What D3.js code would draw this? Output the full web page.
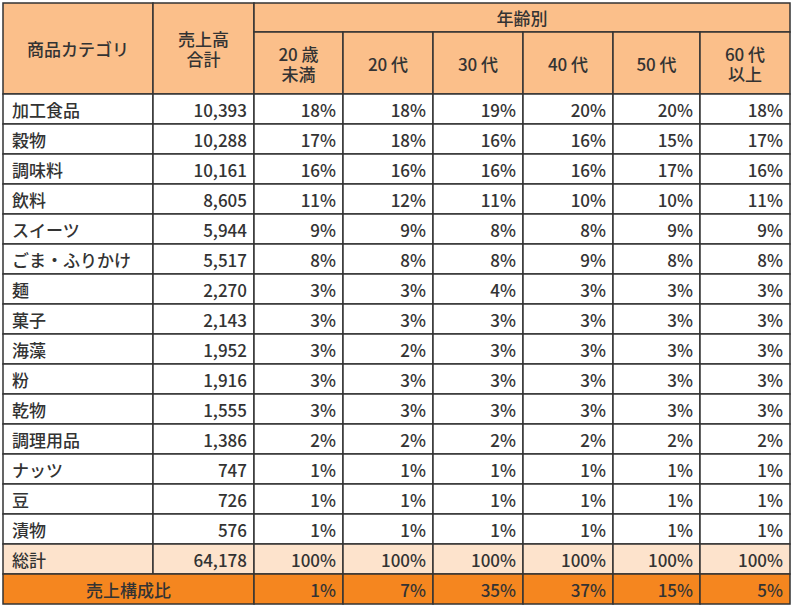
<!DOCTYPE html>
<html><head><meta charset="utf-8">
<script src="https://cdn.jsdelivr.net/npm/d3@7"></script>
<style>body{margin:0;background:#fff}text{font-family:"Noto Sans CJK JP","Noto Sans",sans-serif;fill:#333}</style>
</head><body><svg id="t" width="792" height="607"></svg>
<script>
var categories = ["加工食品","穀物","調味料","飲料","スイーツ","ごま・ふりかけ","麺","菓子","海藻","粉","乾物","調理用品","ナッツ","豆","漬物"];
var totals = [10393,10288,10161,8605,5944,5517,2270,2143,1952,1916,1555,1386,747,726,576];
var ageGroups = [["20 歳","未満"],["20 代"],["30 代"],["40 代"],["50 代"],["60 代","以上"]];
var shares = [
  [18,18,19,20,20,18],[17,18,16,16,15,17],[16,16,16,16,17,16],[11,12,11,10,10,11],
  [9,9,8,8,9,9],[8,8,8,9,8,8],[3,3,4,3,3,3],[3,3,3,3,3,3],[3,2,3,3,3,3],
  [3,3,3,3,3,3],[3,3,3,3,3,3],[2,2,2,2,2,2],[1,1,1,1,1,1],[1,1,1,1,1,1],[1,1,1,1,1,1]];
var grandTotal = 64178;
var salesRatio = [1,7,35,37,15,5];

var svg = d3.select("#t");
var xs = [3,153,254,343,433,523,613,700,790];
var hTop = 3, hSplit = 32, hBottom = 94, rowH = 30;
var y = d3.scaleLinear().domain([0,1]).range([hBottom, hBottom+rowH]);
var fmt = d3.format(",");
var line = "#333", hdr = "#fbbf8a", tot = "#fde3cc", org = "#f5861f";
var nRows = categories.length;

function rect(x0,y0,x1,y1,fill){
  svg.append("rect").attr("x",x0).attr("y",y0).attr("width",x1-x0).attr("height",y1-y0)
    .attr("fill",fill).attr("stroke",line).attr("stroke-width",1.5);
}
function txt(x,yy,s,anchor,size){
  svg.append("text").attr("x",x).attr("y",yy).attr("text-anchor",anchor||"middle")
    .attr("dominant-baseline","central").attr("font-size",size||17).attr("font-weight",500).text(s);
}
// header
rect(xs[0],hTop,xs[1],hBottom,hdr); txt((xs[0]+xs[1])/2,(hTop+hBottom)/2,"商品カテゴリ");
rect(xs[1],hTop,xs[2],hBottom,hdr); txt((xs[1]+xs[2])/2,(hTop+hBottom)/2-10,"売上高"); txt((xs[1]+xs[2])/2,(hTop+hBottom)/2+10,"合計");
rect(xs[2],hTop,xs[8],hSplit,hdr); txt((xs[2]+xs[8])/2,(hTop+hSplit)/2,"年齢別");
ageGroups.forEach(function(g,i){
  var x0=xs[i+2],x1=xs[i+3],cy=(hSplit+hBottom)/2;
  rect(x0,hSplit,x1,hBottom,hdr);
  if(g.length==1) txt((x0+x1)/2,cy,g[0]);
  else { txt((x0+x1)/2,cy-10,g[0]); txt((x0+x1)/2,cy+10,g[1]); }
});
// body
categories.forEach(function(c,r){
  var y0=y(r),y1=y(r+1),cy=(y0+y1)/2;
  rect(xs[0],y0,xs[1],y1,"#fff"); txt(xs[0]+9,cy,c,"start");
  rect(xs[1],y0,xs[2],y1,"#fff"); txt(xs[2]-7,cy,fmt(totals[r]),"end");
  shares[r].forEach(function(v,i){ rect(xs[i+2],y0,xs[i+3],y1,"#fff"); txt(xs[i+3]-7,cy,v+"%","end"); });
});
// total row
var y0=y(nRows),y1=y(nRows+1),cy=(y0+y1)/2;
rect(xs[0],y0,xs[1],y1,tot); txt(xs[0]+9,cy,"総計","start");
rect(xs[1],y0,xs[2],y1,tot); txt(xs[2]-7,cy,fmt(grandTotal),"end");
for(var i=0;i<6;i++){ rect(xs[i+2],y0,xs[i+3],y1,tot); txt(xs[i+3]-7,cy,"100%","end"); }
// ratio row
y0=y(nRows+1); y1=y(nRows+2); cy=(y0+y1)/2;
rect(xs[0],y0,xs[2],y1,org); txt((xs[0]+xs[2])/2,cy,"売上構成比");
salesRatio.forEach(function(v,i){ rect(xs[i+2],y0,xs[i+3],y1,org); txt(xs[i+3]-7,cy,v+"%","end"); });
</script></body></html>
